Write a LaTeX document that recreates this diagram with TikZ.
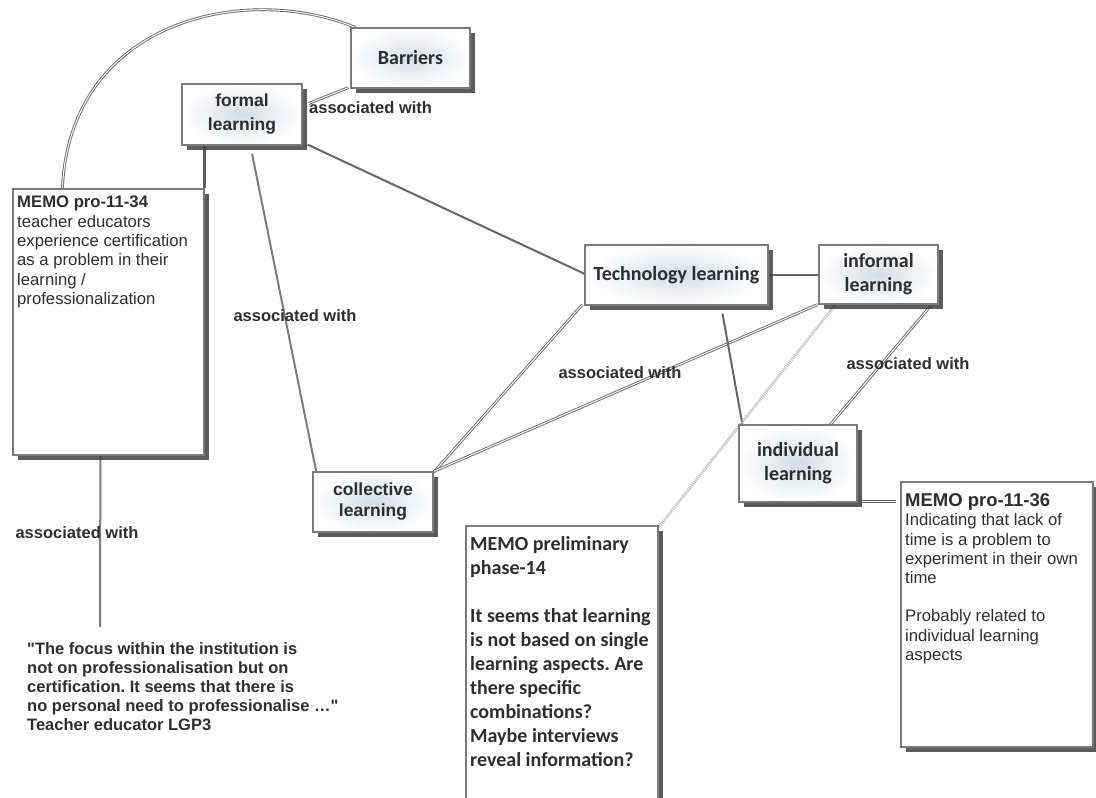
\documentclass[tikz,border=0pt]{standalone}
\usepackage{fontspec}
\setmainfont{Liberation Sans}[Ligatures=TeXOff]
\newfontfamily\carlitofont{Carlito}
\usetikzlibrary{shadows,calc}
\pgfdeclarelayer{bg}
\pgfsetlayers{bg,main}
\frenchspacing
\definecolor{txt}{HTML}{2E2E2E}
\definecolor{boxline}{HTML}{7A7A7A}
\definecolor{shadeblue}{HTML}{CFDDEB}
\definecolor{conn}{HTML}{666666}
\begin{document}
\begin{tikzpicture}[x=1pt,y=-1pt,
  boxshadow/.style={drop shadow={shadow xshift=4.5pt,shadow yshift=-4.5pt,fill=black!75,opacity=0.85}},
  concept/.style={draw=boxline,line width=1.2pt,inner color=shadeblue,outer color=white,boxshadow,text=txt,align=center,inner sep=0pt},
  calfont/.style={font=\carlitofont\bfseries\fontsize{20}{24}\selectfont},
  arfont/.style={font=\bfseries\fontsize{17.5}{24}\selectfont},
  memo/.style={draw=boxline,line width=1.2pt,fill=white,boxshadow,inner sep=0pt},
  memotext/.style={anchor=north west,inner sep=0pt,align=left,text=txt},
  assoc/.style={font=\bfseries\fontsize{16.5}{19}\selectfont,text=txt,inner sep=0pt},
  dline/.style={draw=conn,double=white,double distance=1pt,line width=0.9pt},
  sline/.style={draw=conn,line width=2pt},
  thinline/.style={draw=conn,line width=1.3pt},
  dotline/.style={draw=gray!55,line width=3pt,dash pattern=on 1pt off 1pt},
]
\useasboundingbox (0,0) rectangle (1096,798);

% memo boxes
\node[memo,minimum width=191pt,minimum height=266pt] (m1) at (108.5,322) {};
\node[memotext,font=\fontsize{16.7}{19.3}\selectfont] (m1t) at (17,196)
  {\textbf{MEMO pro-11-34}\\teacher educators\\experience certification\\as a problem in their\\learning /\\professionalization};

\node[memo,minimum width=192pt,minimum height=304pt] (m2) at (562,678) {};
\node[memotext,font=\carlitofont\bfseries\fontsize{20}{24}\selectfont] (m2t) at (470,536)
  {MEMO preliminary\\phase-14\\[24pt]It seems that learning\\is not based on single\\learning aspects. Are\\there specific\\combinations?\\Maybe interviews\\reveal information?};

\node[memo,minimum width=192pt,minimum height=265pt] (m3) at (997,614.5) {};
\node[memotext,font=\fontsize{16.7}{19.2}\selectfont] (m3t) at (905,493.5)
  {{\fontsize{18.5}{19.2}\selectfont\bfseries MEMO pro-11-36}\\Indicating that lack of\\time is a problem to\\experiment in their own\\time\\[19.2pt]Probably related to\\individual learning\\aspects};

% quote
\node[memotext,font=\bfseries\fontsize{16.5}{19.2}\selectfont] (quote) at (27,642)
  {"The focus within the institution is\\not on professionalisation but on\\certification. It seems that there is\\no personal need to professionalise …"\\Teacher educator LGP3};

% concept boxes
\node[concept,calfont,minimum width=119pt,minimum height=60pt] (barriers) at (410.5,58) {Barriers};
\node[concept,arfont,minimum width=120pt,minimum height=61pt] (formal) at (242,114.5) {formal\\learning};
\node[concept,calfont,minimum width=183pt,minimum height=60pt] (tech) at (676.5,275) {Technology learning};
\node[concept,calfont,minimum width=119pt,minimum height=59pt] (informal) at (878.5,274.5) {informal\\learning};
\node[concept,calfont,minimum width=118pt,minimum height=77pt] (individual) at (798,463.5) {individual\\learning};
\node[concept,font=\bfseries\fontsize{17.5}{21}\selectfont,minimum width=120pt,minimum height=60pt] (collective) at (373,502) {collective\\learning};

% labels
\node[assoc,anchor=west] (l1) at (309,108) {associated with};
\node[assoc] (l2) at (295,316) {associated with};
\node[assoc] (l3) at (620,373) {associated with};
\node[assoc] (l4) at (908,364) {associated with};
\node[assoc] (l5) at (77,533) {associated with};

% connectors
\begin{pgfonlayer}{bg}
\draw[dline] ($(m1.north west)+(50,0)$) .. controls (70,20) and (245,-18) .. ($(barriers.north west)+(5,0)$);
\draw[dline] ($(barriers.south west)+(-2,-1)$) -- ($(formal.east)+(6,-11)$);
\draw[draw=conn!90!black,line width=2.5pt] (m1.north east |- formal.south) -- (m1.north east);
\draw[draw=conn!85,line width=2pt] ($(formal.south)+(10,8)$) -- ($(collective.north west)+(4,1)$);
\draw[sline] ($(formal.south east)+(5,-1)$) -- ($(tech.west)+(7,2)$);
\draw[thinline] (tech.east) -- (informal.west |- tech.east);
\draw[dline] ($(tech.south west)+(-2,-1)$) -- ($(collective.north east)+(0,1)$);
\draw[dline] ($(informal.south west)+(-1,0)$) -- (collective.north east);
\draw[sline] ($(tech.south)+(46,8)$) -- ($(individual.north west)+(4,0)$);
\draw[dline] ($(informal.south east)+(-7,0)$) -- ($(individual.north)+(30,3)$);
\draw[dotline] ($(informal.south west)+(17,0)$) -- ($(m2.north east)+(0,2)$);
\draw[dline] ($(individual.south east)+(0,-1)$) -- ($(m3.north west |- individual.south east)+(-4,-1)$);
\draw[draw=conn!85,line width=2pt] ($(m1.south west)+(88,0)$) -- ($(quote.north west)+(73,-15)$);
\end{pgfonlayer}
\end{tikzpicture}
\end{document}
